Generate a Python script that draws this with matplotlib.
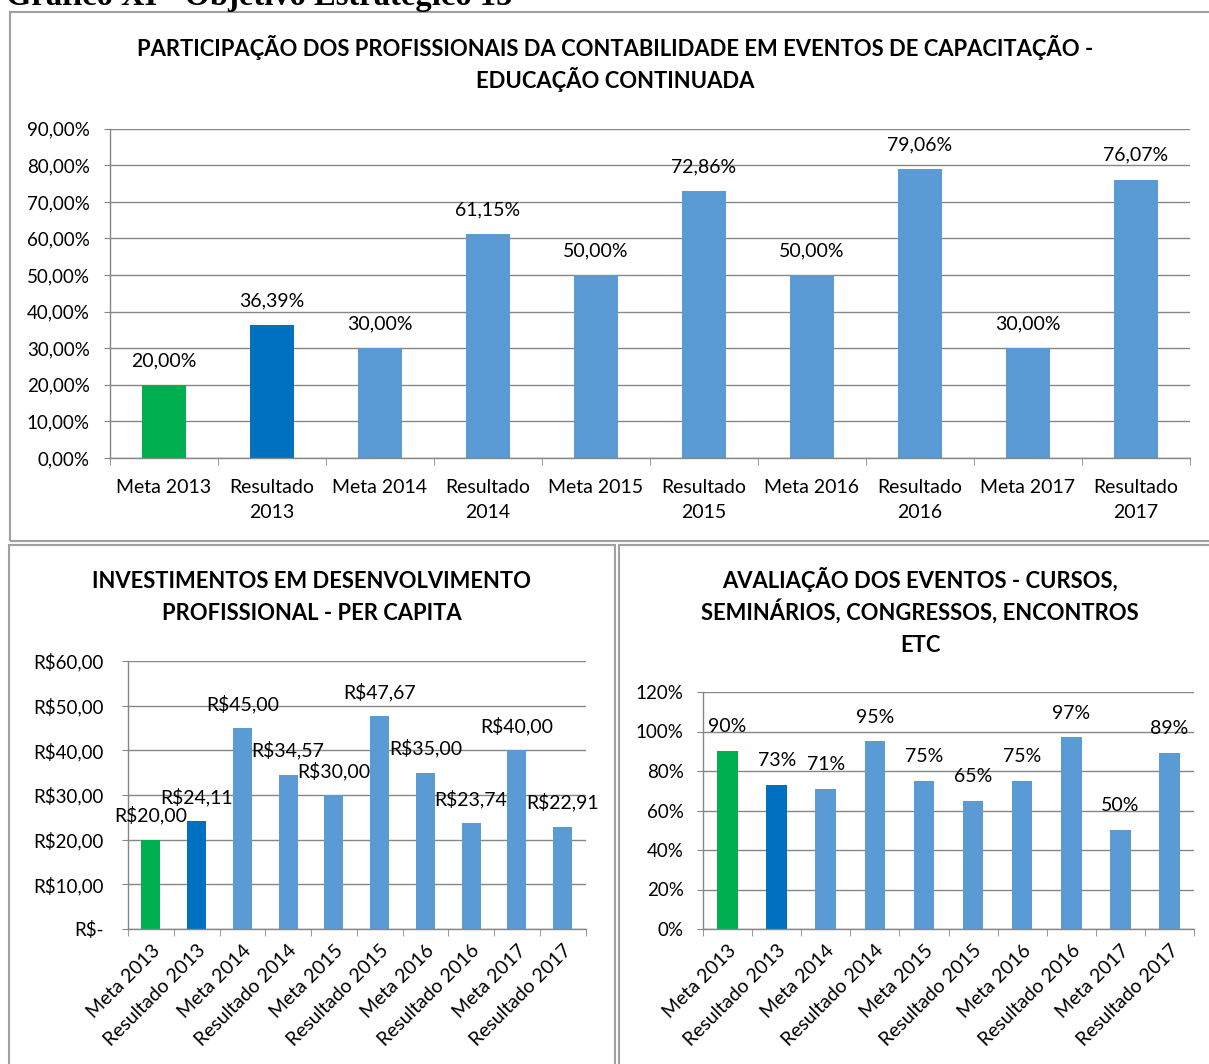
import matplotlib
matplotlib.use("Agg")
import matplotlib.pyplot as plt
from matplotlib.patches import Rectangle

W, H = 1209, 1064

# --- data -------------------------------------------------------------
categorias = ["Meta 2013", "Resultado 2013", "Meta 2014", "Resultado 2014",
              "Meta 2015", "Resultado 2015", "Meta 2016", "Resultado 2016",
              "Meta 2017", "Resultado 2017"]
participacao = [20.00, 36.39, 30.00, 61.15, 50.00, 72.86, 50.00, 79.06, 30.00, 76.07]
investimento = [20.00, 24.11, 45.00, 34.57, 30.00, 47.67, 35.00, 23.74, 40.00, 22.91]
avaliacao = [90, 73, 71, 95, 75, 65, 75, 97, 50, 89]

titulo_part = ["PARTICIPAÇÃO DOS PROFISSIONAIS DA CONTABILIDADE EM EVENTOS DE CAPACITAÇÃO -",
               "EDUCAÇÃO CONTINUADA"]
titulo_inv = ["INVESTIMENTOS EM DESENVOLVIMENTO", "PROFISSIONAL - PER CAPITA"]
titulo_aval = ["AVALIAÇÃO DOS EVENTOS - CURSOS,", "SEMINÁRIOS, CONGRESSOS, ENCONTROS", "ETC"]

GREEN = "#00B050"
DARK = "#0070C0"
LIGHT = "#5B9BD5"
GRID = "#868686"
cores = [GREEN, DARK] + [LIGHT] * 8

plt.rcParams["font.family"] = ["Lato", "DejaVu Sans"]
FS_Y = 13.5   # y tick labels
FS = 14       # x labels and data labels
FS_T = 15.8   # chart titles


def px_rect(x0, y0, x1, y1):
    return [x0 / W, 1 - y1 / H, (x1 - x0) / W, (y1 - y0) / H]


def br(v, dec=2):
    return f"{v:.{dec}f}".replace(".", ",")


def style_axis(ax, ymax, step, fmt, ypad):
    ax.set_xlim(-0.5, len(categorias) - 0.5)
    ax.set_ylim(0, ymax)
    ticks = [i * step for i in range(int(round(ymax / step)) + 1)]
    ax.set_yticks(ticks)
    ax.set_yticklabels([fmt(t) for t in ticks], fontsize=FS_Y, color="black")
    ax.grid(axis="y", color=GRID, lw=1)
    ax.set_axisbelow(True)
    for s in ["top", "right"]:
        ax.spines[s].set_visible(False)
    for s in ["left", "bottom"]:
        ax.spines[s].set_color(GRID)
        ax.spines[s].set_linewidth(1)
    ax.tick_params(axis="y", length=4.5, color=GRID, pad=ypad)
    ax.set_xticks([i - 0.5 for i in range(len(categorias) + 1)], minor=True)
    ax.tick_params(axis="x", which="minor", length=5, color=GRID)
    ax.tick_params(axis="x", which="major", length=0)


def labels(ax, vals, fmt):
    for i, v in enumerate(vals):
        ax.annotate(fmt(v), (i, v), xytext=(0, 17.5), textcoords="offset points",
                    ha="center", va="center", fontsize=FS)


def title_lines(lines, xc, y_first):
    # one text per line, baselines 32 px apart
    for k, line in enumerate(lines):
        fig.text(xc / W, 1 - (y_first + 32 * k) / H, line, ha="center",
                 va="baseline", fontsize=FS_T, fontweight="bold")


fig = plt.figure(figsize=(W / 100, H / 100), dpi=100)

# panel borders
for (x0, y0, x1, y1) in [(10, 12, 1230, 541), (9, 545, 615, 1090), (619, 545, 1230, 1090)]:
    fig.patches.append(Rectangle((x0 / W, 1 - y1 / H), (x1 - x0) / W, (y1 - y0) / H,
                                 transform=fig.transFigure, fill=False,
                                 edgecolor="#A0A0A0", lw=1.5))

fig.text(6 / W, 1 - 5 / H, "Gráfico XI - Objetivo Estratégico 15", fontsize=23.5,
         fontweight="bold", family="Liberation Serif", va="baseline", ha="left")

# --- top chart --------------------------------------------------------
ax1 = fig.add_axes(px_rect(110, 128.7, 1190, 458))
x = range(len(categorias))
ax1.bar(x, participacao, width=0.41, color=cores)
style_axis(ax1, 90, 10, lambda t: br(t) + "%", ypad=10)
labels(ax1, participacao, lambda v: br(v) + "%")
ax1.set_xticks(list(x))
ax1.set_xticklabels([c.replace("Resultado ", "Resultado\n") for c in categorias],
                    fontsize=FS, linespacing=1.55)
ax1.tick_params(axis="x", which="major", pad=15)
title_lines(titulo_part, 615, 56)

# --- bottom left ------------------------------------------------------
ax2 = fig.add_axes(px_rect(128, 661, 585.5, 929))
ax2.bar(x, investimento, width=0.42, color=cores)
style_axis(ax2, 60, 10, lambda t: "R$-" if t == 0 else "R$" + br(t), ypad=13)
labels(ax2, investimento, lambda v: "R$" + br(v))
ax2.set_xticks(list(x))
ax2.set_xticklabels(categorias, fontsize=FS, rotation=45, ha="right",
                    rotation_mode="anchor")
ax2.tick_params(axis="x", which="major", pad=9)
title_lines(titulo_inv, 312, 588)

# --- bottom right -----------------------------------------------------
ax3 = fig.add_axes(px_rect(703, 692, 1194, 929))
ax3.bar(x, avaliacao, width=0.42, color=cores)
style_axis(ax3, 120, 20, lambda t: f"{t:.0f}%", ypad=9.5)
labels(ax3, avaliacao, lambda v: f"{v:.0f}%")
ax3.set_xticks(list(x))
ax3.set_xticklabels(categorias, fontsize=FS, rotation=45, ha="right",
                    rotation_mode="anchor")
ax3.tick_params(axis="x", which="major", pad=9)
title_lines(titulo_aval, 920, 588)

fig.savefig("out.png", dpi=100)
